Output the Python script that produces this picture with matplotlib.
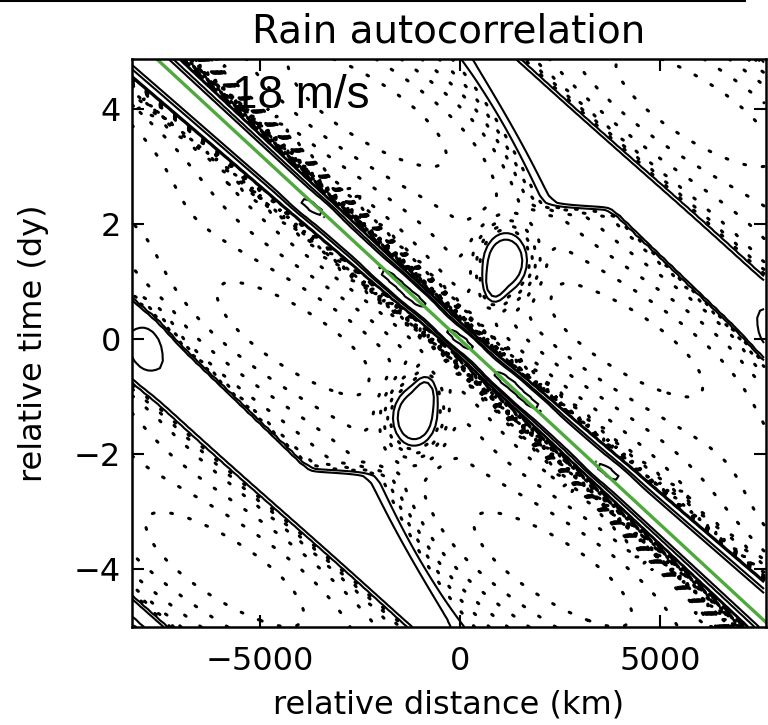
import numpy as np
import matplotlib
matplotlib.use("Agg")
import matplotlib.pyplot as plt
from matplotlib.lines import Line2D

# ---- data -------------------------------------------------------------
speed_ms = 18                       # propagation speed of the green line
x_range_km = [-8200, 7650]
t_range_dy = [-5.0, 4.875]
dx_km = 100
dt_dy = 0.125

# main ridge along the propagation line
ridge_amp = 0.30
ridge_width_km = 380                # half width at zero lag
ridge_widen_km_per_dy = 65          # ridge gets wider away from zero lag
ridge_tilt_km_per_dy = -50
# small maxima sitting on the ridge (days)
bump_t = [0.0, 0.72, -0.72, 1.08, -1.08, 2.3, -2.3]
bump_amp = [0.14, 0.13, 0.13, 0.11, 0.11, 0.11, 0.11]
# negative shoulders just outside the ridge (in ridge widths)
shoulder_amp = 0.12
shoulder_dist = 1.65
shoulder_width = 0.4
shoulder_skew = 0.5
# broad negative trough between the ridges
trough_amp = 0.06
trough_mod = 0.12
trough_period_dy = 4.0
band_sep_km = 8200
# neighbouring band (one period away): edges in ridge coordinate (km)
band_amp = 0.08
band_left_km = 7180
band_left_slope = 130               # km per day
band_right_km = 9250
band_edge_l = 120
band_edge_r = 250
# tongue of the band reaching towards the ridge
tongue_tip_km = 5800
tongue_t_dy = 2.3
tongue_slope = 1000                 # km per day
tongue_edge = 480
# second ridge, two periods away
ridge2_sep_km = 15650
ridge2_amp = 0.07
ridge2_width_km = 300
# extra blobs on the upper-right half (mirrored through the origin)
blob_x_km = [1150, 850, 7850]
blob_t_dy = [1.35, 0.9, 0.15]
blob_wx_km = [600, 260, 500]
blob_wt_dy = [0.55, 0.28, 0.5]
blob_amp = [0.12, 0.05, 0.06]

neg_levels = list(np.round(np.arange(-0.25, -0.005, 0.01), 3))
pos_levels = [0.0, 0.02, 0.1, 0.15, 0.35]

# ---- field --------------------------------------------------------------
c_km_dy = speed_ms * 86.4
x = np.arange(x_range_km[0], x_range_km[1] + 1, dx_km)
t = np.arange(t_range_dy[0], t_range_dy[1] + 1e-6, dt_dy)
X, T = np.meshgrid(x, t)
S = X + c_km_dy * T - ridge_tilt_km_per_dy * T
W = ridge_width_km + ridge_widen_km_per_dy * np.abs(T)


def sig(z):
    return 0.5 * (1 + np.tanh(z))


def half(X, T, S):
    g = sig((T - tongue_t_dy) / 0.08)
    left = (1 - g) * sig((S - band_left_km - band_left_slope * T) / band_edge_l) \
        + g * sig((S - tongue_tip_km - tongue_slope * (T - tongue_t_dy)) / tongue_edge)
    out = band_amp * left * sig((band_right_km - S) / band_edge_r)
    out += ridge2_amp * np.exp(-((S - ridge2_sep_km) / ridge2_width_km) ** 2)
    out -= shoulder_amp * np.exp(-((S / W - shoulder_dist) / shoulder_width) ** 2) \
        * (1 + shoulder_skew * np.tanh(T))
    for bx, bt, wx, wt, a in zip(blob_x_km, blob_t_dy, blob_wx_km,
                                 blob_wt_dy, blob_amp):
        out += a * np.exp(-((X - bx) / wx) ** 2 - ((T - bt) / wt) ** 2)
    return out


field = ridge_amp * np.exp(-(S / W) ** 2)
for bt, a in zip(bump_t, bump_amp):
    field += a * np.exp(-(S / 350) ** 2 - ((T - bt) / 0.2) ** 2)
field -= trough_amp * np.abs(np.sin(np.pi * S / band_sep_km)) \
    * (1 + trough_mod * np.cos(2 * np.pi * T / trough_period_dy))
field += half(X, T, S) + half(-X, -T, -S)

# ---- plot ---------------------------------------------------------------
plt.rcParams["font.family"] = "DejaVu Sans"
fig = plt.figure(figsize=(7.68, 7.25), dpi=100)
ax = fig.add_axes([132 / 768, 1 - 627 / 725, 634 / 768, 568 / 725])

cn = ax.contour(X, T, field, levels=neg_levels, colors="k", linewidths=2.2)
cn.set_linestyle((0, (0.6, 5.5)))
cn.set_capstyle("round")
ax.contour(X, T, field, levels=pos_levels, colors="k", linewidths=1.5,
           linestyles="solid")

tl = np.array(t_range_dy)
ax.plot(-c_km_dy * tl, tl, color="#4ea93c", lw=2.4)

ax.text(-5700, 4.03, "18 m/s", fontsize=33, family="Liberation Sans",
        ha="left", va="baseline")

ax.set_xlim(x_range_km)
ax.set_ylim(t_range_dy)
ax.set_xticks([-5000, 0, 5000])
ax.set_yticks([-4, -2, 0, 2, 4])
ax.tick_params(direction="in", length=8.5, width=1.5, top=True, right=True,
               labelsize=23)
ax.tick_params(axis="x", pad=14)
ax.tick_params(axis="y", pad=8)
for sp in ax.spines.values():
    sp.set_linewidth(1.8)
ax.set_title("Rain autocorrelation", fontsize=28, pad=12)
ax.set_xlabel("relative distance (km)", fontsize=23, labelpad=9)
ax.set_ylabel("relative time (dy)", fontsize=23, labelpad=18)

fig.add_artist(Line2D([0, 0.97], [0.999, 0.999], transform=fig.transFigure,
                      color="k", lw=1.5))

fig.savefig("out.png", dpi=100)
